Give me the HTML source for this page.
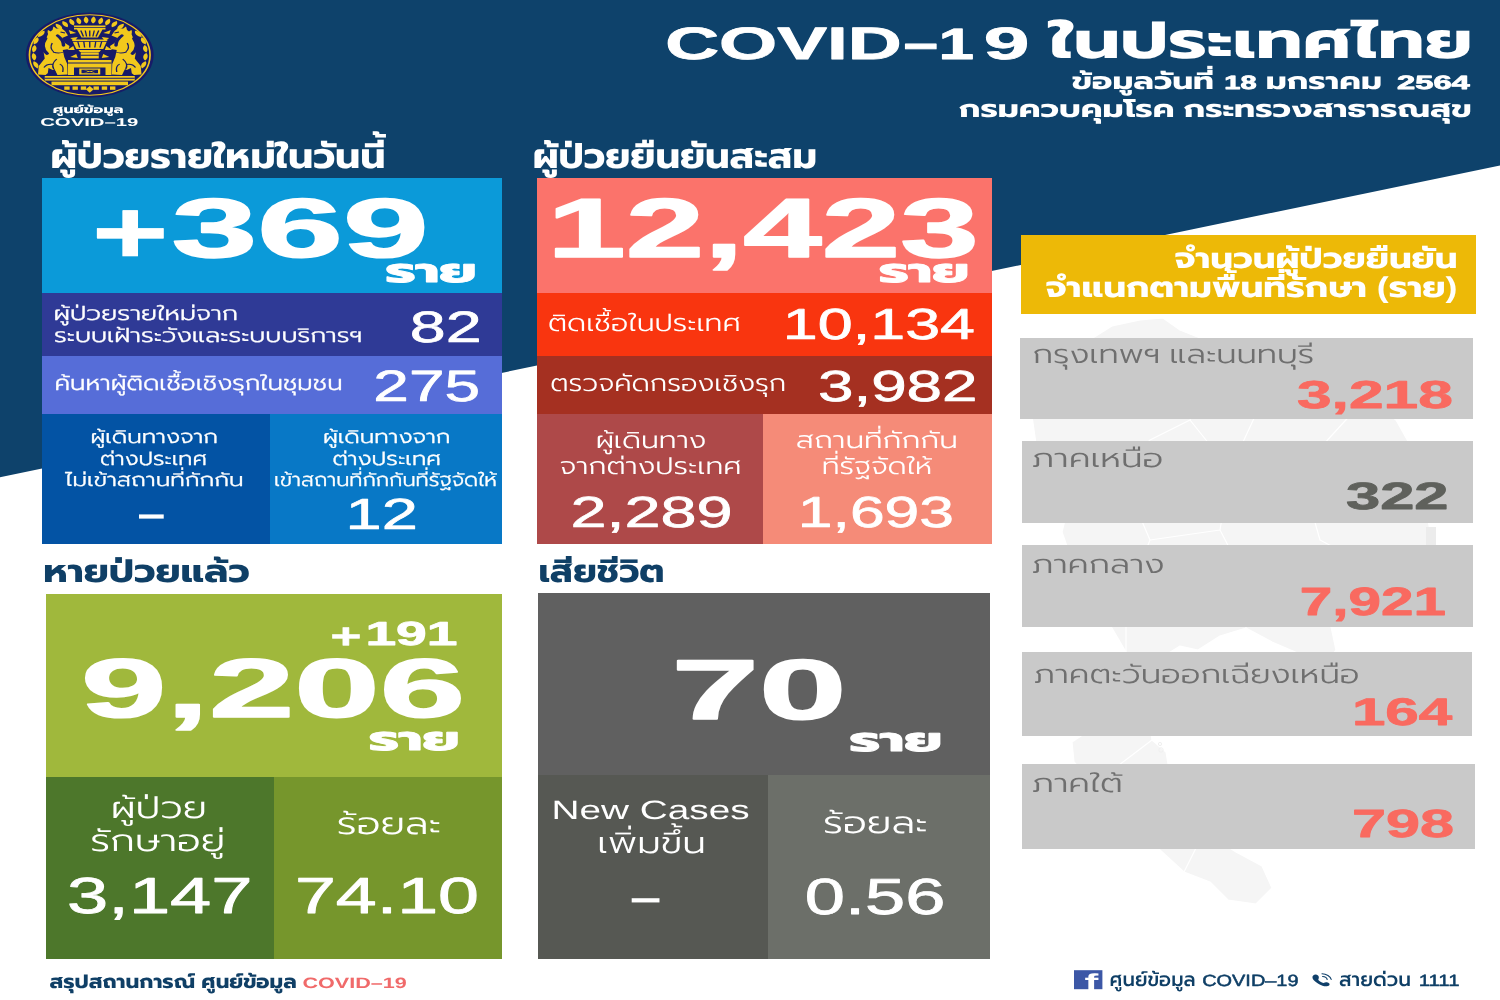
<!DOCTYPE html>
<html lang="th">
<head>
<meta charset="utf-8">
<title>COVID-19 ในประเทศไทย</title>
<style>
html,body{margin:0;padding:0;}
body{width:1500px;height:1000px;position:relative;overflow:hidden;background:#ffffff;font-family:'Liberation Sans','Prompt','Kanit','Loma',sans-serif;}
#bg{position:absolute;left:0;top:0;width:1500px;height:1000px;}
.p{position:absolute;}
#txt{position:absolute;left:0;top:0;width:1500px;height:1000px;font-family:'Liberation Sans','Prompt','Kanit','Loma',sans-serif;}
#txt text{white-space:pre;text-rendering:geometricPrecision;}
</style>
</head>
<body>
<svg id="bg" viewBox="0 0 1500 1000" width="1500" height="1000">
<polygon points="0,0 1500,0 1500,165.4 0,477.2" fill="#0e426b"/>
<g id="thaimap" fill="#f5f5f5" stroke="#ffffff" stroke-width="1.2" stroke-linejoin="round">
<path d="M1112,326 L1140,320 L1163,318 L1180,330 L1200,338 L1212,358 L1214,380 L1236,392 L1256,414 L1280,412 L1304,398 L1332,392 L1366,398 L1396,420 L1414,452 L1424,492 L1430,532 L1424,566 L1392,578 L1352,582 L1324,596 L1330,622 L1336,650 L1322,668 L1300,654 L1272,642 L1246,628 L1220,636 L1198,650 L1180,646 L1164,656 L1158,684 L1148,716 L1152,740 L1166,752 L1170,776 L1182,806 L1204,832 L1236,852 L1262,866 L1272,888 L1256,904 L1228,900 L1210,882 L1184,872 L1160,850 L1140,822 L1118,800 L1094,784 L1074,762 L1072,742 L1090,730 L1108,712 L1120,684 L1126,652 L1112,628 L1092,600 L1074,566 L1062,532 L1070,500 L1056,470 L1036,444 L1032,416 L1048,392 L1058,364 L1080,346 Z"/>
<path d="M1214,380 L1190,420 L1150,440 L1120,470 L1070,500 M1190,420 L1230,470 L1256,414 M1230,470 L1220,530 L1246,580 L1246,628 M1220,530 L1150,540 L1120,470 M1150,540 L1126,600 L1126,652 M1324,596 L1246,580 M1300,470 L1320,540 L1392,578 M1300,470 L1366,398 M1300,470 L1230,470 M1360,500 L1424,492 M1108,712 L1148,716 M1094,784 L1152,740 M1140,822 L1182,806 M1184,872 L1204,832" fill="none"/>
<circle cx="1161" cy="750" r="2.2" fill="none" stroke="#f0f0f0" stroke-width="1"/>
<circle cx="1160" cy="744" r="1.6" fill="none" stroke="#f0f0f0" stroke-width="1"/>
</g>
<rect x="1426" y="527" width="10" height="18" fill="#ececec"/>
<rect id="fbbox" x="1074" y="970.2" width="28.4" height="19" fill="#3c57a6"/>

</svg>

<div class="p b1" style="left:42px;top:178px;width:460px;height:115px;background:#0b9ad9"></div>
<div class="p b2" style="left:42px;top:293px;width:460px;height:63px;background:#2f3a96"></div>
<div class="p b3" style="left:42px;top:356px;width:460px;height:58px;background:#566dd8"></div>
<div class="p b4" style="left:42px;top:414px;width:228px;height:130px;background:#0353a4"></div>
<div class="p b5" style="left:270px;top:414px;width:232px;height:130px;background:#0878c6"></div>
<div class="p r1" style="left:537px;top:178px;width:455px;height:115px;background:#fb736b"></div>
<div class="p r2" style="left:537px;top:293px;width:455px;height:63px;background:#f9350f"></div>
<div class="p r3" style="left:537px;top:356px;width:455px;height:58px;background:#a53021"></div>
<div class="p r4" style="left:537px;top:414px;width:226px;height:130px;background:#ae4949"></div>
<div class="p r5" style="left:763px;top:414px;width:229px;height:130px;background:#f58b78"></div>
<div class="p y1" style="left:1021px;top:235px;width:455px;height:79px;background:#edb907"></div>
<div class="p g1" style="left:1020px;top:338px;width:453px;height:81px;background:#c9c9c9"></div>
<div class="p g2" style="left:1022px;top:441px;width:451px;height:82px;background:#c9c9c9"></div>
<div class="p g3" style="left:1022px;top:545px;width:451px;height:82px;background:#c9c9c9"></div>
<div class="p g4" style="left:1022px;top:652px;width:450px;height:84px;background:#c9c9c9"></div>
<div class="p g5" style="left:1022px;top:764px;width:453px;height:85px;background:#c9c9c9"></div>
<div class="p n1" style="left:46px;top:594px;width:456px;height:184px;background:#a0b83c"></div>
<div class="p n2" style="left:46px;top:777px;width:228px;height:182px;background:#4d772b"></div>
<div class="p n3" style="left:274px;top:777px;width:228px;height:182px;background:#76962c"></div>
<div class="p d1" style="left:538px;top:593px;width:452px;height:182px;background:#606060"></div>
<div class="p d2" style="left:538px;top:775px;width:230px;height:184px;background:#565853"></div>
<div class="p d3" style="left:768px;top:775px;width:222px;height:184px;background:#6c6f69"></div>
<svg id="logo" style="position:absolute;left:20px;top:5px" width="140" height="100" viewBox="20 5 140 100">
<g transform="translate(89.75,55) scale(1.5,1)">
<circle r="42.6" fill="#171b68"/>
<circle r="40.2" fill="none" stroke="#f2c81c" stroke-width="1.1"/>
<g fill="#f2c81c">
<path transform="translate(-20.3,-27.9) rotate(-36)" d="M0,-4 C2,-2 2.2,1 0,3 C-2.2,1 -2,-2 0,-4Z"/>
<path transform="translate(-16.2,-30.5) rotate(-28)" d="M0,-4 C2,-2 2.2,1 0,3 C-2.2,1 -2,-2 0,-4Z"/>
<path transform="translate(-11.8,-32.4) rotate(-20)" d="M0,-4 C2,-2 2.2,1 0,3 C-2.2,1 -2,-2 0,-4Z"/>
<path transform="translate(-7.2,-33.7) rotate(-12)" d="M0,-4 C2,-2 2.2,1 0,3 C-2.2,1 -2,-2 0,-4Z"/>
<path transform="translate(-2.4,-34.4) rotate(-4)" d="M0,-4 C2,-2 2.2,1 0,3 C-2.2,1 -2,-2 0,-4Z"/>
<path transform="translate(2.4,-34.4) rotate(4)" d="M0,-4 C2,-2 2.2,1 0,3 C-2.2,1 -2,-2 0,-4Z"/>
<path transform="translate(7.2,-33.7) rotate(12)" d="M0,-4 C2,-2 2.2,1 0,3 C-2.2,1 -2,-2 0,-4Z"/>
<path transform="translate(11.8,-32.4) rotate(20)" d="M0,-4 C2,-2 2.2,1 0,3 C-2.2,1 -2,-2 0,-4Z"/>
<path transform="translate(16.2,-30.5) rotate(28)" d="M0,-4 C2,-2 2.2,1 0,3 C-2.2,1 -2,-2 0,-4Z"/>
<path transform="translate(20.3,-27.9) rotate(36)" d="M0,-4 C2,-2 2.2,1 0,3 C-2.2,1 -2,-2 0,-4Z"/>
<path transform="translate(-26.0,-20.3) rotate(-22)" d="M0,-5 C2,-2 2,1 0,3 C-2,1 -2,-2 0,-5Z"/>
<path transform="translate(-22.9,-23.7) rotate(-14)" d="M0,-5 C2,-2 2,1 0,3 C-2,1 -2,-2 0,-5Z"/>
<path transform="translate(22.9,-23.7) rotate(14)" d="M0,-5 C2,-2 2,1 0,3 C-2,1 -2,-2 0,-5Z"/>
<path transform="translate(26.0,-20.3) rotate(22)" d="M0,-5 C2,-2 2,1 0,3 C-2,1 -2,-2 0,-5Z"/>
<path d="M-10.5,-29.5 H10.5 V-25.5 H8.5 L5.5,-17.5 H-5.5 L-8.5,-25.5 H-10.5 Z"/>
<path d="M-12,-15.5 H12 L9,-6 H-9 Z"/>
<path d="M-7.5,-5 H7.5 L6.5,-3 H-6.5 Z"/>
<rect x="-6" y="-2.6" width="12" height="6"/>
<path d="M-9,-22 l-5,-3 l1,4Z M-8,-18 l-5,1 l3,3Z M-11,-9 l-4,4 l5,0Z M-9,-1 l-4,3 l5,1Z"/>
<path d="M9,-22 l5,-3 l-1,4Z M8,-18 l5,1 l-3,3Z M11,-9 l4,4 l-5,0Z M9,-1 l4,3 l-5,1Z"/>
<path d="M-14.5,5 H14.5 V20 H10.5 V12.5 H-10.5 V20 H-14.5 Z"/>
<path d="M-7,13.5 H7 V19.5 H-7Z M-5.5,14.7 V18.3 H5.5 V14.7Z" fill-rule="evenodd"/>
<path d="M-4,15.2 L0,16.2 L4,15.2 L1.2,16.5 L4,17.8 L0,16.8 L-4,17.8 L-1.2,16.5Z"/>
<rect x="-30" y="21" width="60" height="4.6"/>
<rect x="-25.5" y="26.6" width="51" height="3.6"/>
<rect x="-17" y="31.4" width="3.6" height="3.4"/>
<rect x="-11.5" y="31.4" width="3.6" height="3.4"/>
<rect x="-6" y="31.4" width="3.6" height="3.4"/>
<rect x="2.5" y="31.4" width="3.6" height="3.4"/>
<rect x="8" y="31.4" width="3.6" height="3.4"/>
<rect x="13.5" y="31.4" width="3.6" height="3.4"/>
<path d="M0,31 l2.6,3.2 l-2.6,3.6 l-2.6,-3.6Z"/>
<path d="M-24,-26 L-19,-27 L-16.5,-24 L-14.5,-19.5 L-18.5,-17 L-16.5,-12 L-13.5,-9 L-14,-6 L-18,-5 L-17,2 L-15,9 L-14.8,19.5 L-21.5,20 L-23.5,14 L-27,17 L-29.5,20 L-34.5,19.5 L-34,11 L-30,3.5 L-31,-5 L-29.5,-15 L-27.5,-22 Z"/>
<path transform="scale(-1,1)" d="M-24,-26 L-19,-27 L-16.5,-24 L-14.5,-19.5 L-18.5,-17 L-16.5,-12 L-13.5,-9 L-14,-6 L-18,-5 L-17,2 L-15,9 L-14.8,19.5 L-21.5,20 L-23.5,14 L-27,17 L-29.5,20 L-34.5,19.5 L-34,11 L-30,3.5 L-31,-5 L-29.5,-15 L-27.5,-22 Z"/>
<path transform="translate(36,-14) scale(-1,1) rotate(20)" d="M0,-4 C2.2,-2 2.2,1.5 0,3.6 C-1.6,1.5 -1.8,-2 0,-4Z"/>
<path transform="translate(37.2,-6) scale(-1,1) rotate(8)" d="M0,-4 C2.2,-2 2.2,1.5 0,3.6 C-1.6,1.5 -1.8,-2 0,-4Z"/>
<path transform="translate(37.3,2) scale(-1,1) rotate(-5)" d="M0,-4 C2.2,-2 2.2,1.5 0,3.6 C-1.6,1.5 -1.8,-2 0,-4Z"/>
<path transform="translate(36,10) scale(-1,1) rotate(-20)" d="M0,-4 C2.2,-2 2.2,1.5 0,3.6 C-1.6,1.5 -1.8,-2 0,-4Z"/>
<path transform="translate(32.5,-21) scale(-1,1) rotate(35)" d="M0,-4 C2.2,-2 2.2,1.5 0,3.6 C-1.6,1.5 -1.8,-2 0,-4Z"/>
<path transform="translate(-36,-14) scale(1,1) rotate(20)" d="M0,-4 C2.2,-2 2.2,1.5 0,3.6 C-1.6,1.5 -1.8,-2 0,-4Z"/>
<path transform="translate(-37.2,-6) scale(1,1) rotate(8)" d="M0,-4 C2.2,-2 2.2,1.5 0,3.6 C-1.6,1.5 -1.8,-2 0,-4Z"/>
<path transform="translate(-37.3,2) scale(1,1) rotate(-5)" d="M0,-4 C2.2,-2 2.2,1.5 0,3.6 C-1.6,1.5 -1.8,-2 0,-4Z"/>
<path transform="translate(-36,10) scale(1,1) rotate(-20)" d="M0,-4 C2.2,-2 2.2,1.5 0,3.6 C-1.6,1.5 -1.8,-2 0,-4Z"/>
<path transform="translate(-32.5,-21) scale(1,1) rotate(35)" d="M0,-4 C2.2,-2 2.2,1.5 0,3.6 C-1.6,1.5 -1.8,-2 0,-4Z"/>
</g>
<g fill="none" stroke="#171b68" stroke-width="0.9">
<path d="M-6,-24.5 L-4.2,-18.5"/>
<path d="M-3,-24.5 L-2.1,-18.5"/>
<path d="M0,-24.5 L0.0,-18.5"/>
<path d="M3,-24.5 L2.1,-18.5"/>
<path d="M6,-24.5 L4.2,-18.5"/>
<path d="M-8,-13.5 L-6.8,-7.5"/>
<path d="M-4,-13.5 L-3.4,-7.5"/>
<path d="M0,-13.5 L0.0,-7.5"/>
<path d="M4,-13.5 L3.4,-7.5"/>
<path d="M8,-13.5 L6.8,-7.5"/>
<path d="M-11,-27.6 H11 M-12,-13.6 H12 M-6,0.3 H6 M-30,23.3 H30 M-14.5,8 H14.5"/>
<path transform="scale(-1,1)" d="M-21.5,-19.5 Q-17.5,-15 -17.5,-9.5" stroke-width="2.3" stroke-linecap="round"/>
<path transform="scale(-1,1)" d="M-29.5,-16.5 Q-33.5,-8 -28.5,-1.5" stroke-width="2.6" stroke-linecap="round"/>
<path transform="scale(-1,1)" d="M-25,-12 q-2,5 1,9 M-22,4 q-4,5 -2,10 M-30.5,12.5 q2,-4 6,-3 M-19.5,-23 l3,1 M-20,9 q3,2 2,8 M-24.5,-3 q4,2 7,0" stroke-width="0.9"/>
<path transform="scale(-1,1)" d="M-27.5,13 L-22.5,16.5 L-28,18.5Z" fill="#171b68" stroke="none"/>
<path transform="scale(1,1)" d="M-21.5,-19.5 Q-17.5,-15 -17.5,-9.5" stroke-width="2.3" stroke-linecap="round"/>
<path transform="scale(1,1)" d="M-29.5,-16.5 Q-33.5,-8 -28.5,-1.5" stroke-width="2.6" stroke-linecap="round"/>
<path transform="scale(1,1)" d="M-25,-12 q-2,5 1,9 M-22,4 q-4,5 -2,10 M-30.5,12.5 q2,-4 6,-3 M-19.5,-23 l3,1 M-20,9 q3,2 2,8 M-24.5,-3 q4,2 7,0" stroke-width="0.9"/>
<path transform="scale(1,1)" d="M-27.5,13 L-22.5,16.5 L-28,18.5Z" fill="#171b68" stroke="none"/>
</g>
</g></svg>
<svg id="txt" viewBox="0 0 1500 1000" width="1500" height="1000">
<text id="t_title"><tspan x="665.16" y="59.0" font-size="45.4" font-weight="700" fill="#ffffff" stroke="#ffffff" stroke-width="0.8" stroke-linejoin="round" textLength="236.59" lengthAdjust="spacingAndGlyphs">COVID</tspan><tspan x="903.75" y="58.6" font-size="47" font-weight="700" fill="#ffffff" stroke="#ffffff" stroke-width="1.0" stroke-linejoin="round" textLength="34.13" lengthAdjust="spacingAndGlyphs">–</tspan><tspan x="938.56" y="58.5" font-size="43.9" font-weight="700" fill="#ffffff" stroke="#ffffff" stroke-width="0.8" stroke-linejoin="round" textLength="35.59" lengthAdjust="spacingAndGlyphs">1</tspan><tspan x="983.79" y="59.0" font-size="45.4" font-weight="700" fill="#ffffff" stroke="#ffffff" stroke-width="0.8" stroke-linejoin="round" textLength="45.66" lengthAdjust="spacingAndGlyphs">9</tspan> <tspan x="1049.81" y="58.3" font-size="51" font-weight="700" fill="#ffffff" textLength="422.8" lengthAdjust="spacingAndGlyphs">ในประเทศไทย</tspan></text>
<text id="t_dept" x="958.8" y="117.3" font-size="24" font-weight="700" fill="#ffffff" textLength="513.01" lengthAdjust="spacingAndGlyphs">กรมควบคุมโรค กระทรวงสาธารณสุข</text>
<text id="t_logo"><tspan x="52.88" y="112.8" font-size="10.7" font-weight="700" fill="#ffffff" textLength="70.63" lengthAdjust="spacingAndGlyphs">ศูนย์ข้อมูล</tspan> <tspan x="40.19" y="125.6" font-size="11.4" font-weight="700" fill="#ffffff" textLength="98.22" lengthAdjust="spacingAndGlyphs">COVID–19</tspan></text>
<text id="h_new" x="50.49" y="167.5" font-size="35" font-weight="700" fill="#ffffff" textLength="334.9" lengthAdjust="spacingAndGlyphs">ผู้ป่วยรายใหม่ในวันนี้</text>
<text id="h_conf" x="532.88" y="167.5" font-size="35" font-weight="700" fill="#ffffff" textLength="284.25" lengthAdjust="spacingAndGlyphs">ผู้ป่วยยืนยันสะสม</text>
<text id="h_rec" x="43.18" y="582.4" font-size="32" font-weight="700" fill="#0f3f66" textLength="206.53" lengthAdjust="spacingAndGlyphs">หายป่วยแล้ว</text>
<text id="h_death" x="538.46" y="581.5" font-size="32" font-weight="700" fill="#0f3f66" textLength="126.08" lengthAdjust="spacingAndGlyphs">เสียชีวิต</text>
<text id="b_num"><tspan x="92.12" y="262.7" font-size="89.42" font-weight="700" fill="#ffffff" stroke="#ffffff" stroke-width="0.8" stroke-linejoin="round" textLength="76.43" lengthAdjust="spacingAndGlyphs">+</tspan><tspan x="171.64" y="256.6" font-size="83.8" font-weight="700" fill="#ffffff" stroke="#ffffff" stroke-width="1.5" stroke-linejoin="round" textLength="257.07" lengthAdjust="spacingAndGlyphs">369</tspan></text>
<text id="b_rai" x="385.49" y="282.2" font-size="33" font-weight="700" fill="#ffffff" stroke="#ffffff" stroke-width="0.9" stroke-linejoin="round" textLength="91.26" lengthAdjust="spacingAndGlyphs">ราย</text>
<text id="b_l12"><tspan x="53.57" y="320" font-size="19.8" font-weight="300" fill="#ffffff" stroke="#ffffff" stroke-width="0.3" stroke-linejoin="round" textLength="184.55" lengthAdjust="spacingAndGlyphs">ผู้ป่วยรายใหม่จาก</tspan> <tspan x="54.09" y="341.6" font-size="19.8" font-weight="300" fill="#ffffff" stroke="#ffffff" stroke-width="0.3" stroke-linejoin="round" textLength="308.22" lengthAdjust="spacingAndGlyphs">ระบบเฝ้าระวังและระบบบริการฯ</tspan></text>
<text id="b_82" x="409.86" y="341.7" font-size="43.9" font-weight="400" fill="#ffffff" stroke="#ffffff" stroke-width="0.7" stroke-linejoin="round" textLength="71.82" lengthAdjust="spacingAndGlyphs">82</text>
<text id="b_l3" x="54.48" y="390.4" font-size="20.8" font-weight="300" fill="#ffffff" stroke="#ffffff" stroke-width="0.3" stroke-linejoin="round" textLength="288.03" lengthAdjust="spacingAndGlyphs">ค้นหาผู้ติดเชื้อเชิงรุกในชุมชน</text>
<text id="b_275" x="373.38" y="400.5" font-size="43.9" font-weight="400" fill="#ffffff" stroke="#ffffff" stroke-width="0.7" stroke-linejoin="round" textLength="106.71" lengthAdjust="spacingAndGlyphs">275</text>
<text id="b_c1"><tspan x="90.46" y="442.9" font-size="18.6" font-weight="300" fill="#ffffff" stroke="#ffffff" stroke-width="0.3" stroke-linejoin="round" textLength="127.57" lengthAdjust="spacingAndGlyphs">ผู้เดินทางจาก</tspan> <tspan x="99.98" y="464.5" font-size="18.6" font-weight="300" fill="#ffffff" stroke="#ffffff" stroke-width="0.3" stroke-linejoin="round" textLength="107.04" lengthAdjust="spacingAndGlyphs">ต่างประเทศ</tspan> <tspan x="65.0" y="485.5" font-size="18.6" font-weight="300" fill="#ffffff" stroke="#ffffff" stroke-width="0.3" stroke-linejoin="round" textLength="178.51" lengthAdjust="spacingAndGlyphs">ไม่เข้าสถานที่กักกัน</tspan></text>
<text id="b_dash" x="138.9" y="531.6" font-size="61.05" font-weight="400" fill="#ffffff" textLength="24.7" lengthAdjust="spacingAndGlyphs">–</text>
<text id="b_c2"><tspan x="322.96" y="442.9" font-size="18.6" font-weight="300" fill="#ffffff" stroke="#ffffff" stroke-width="0.3" stroke-linejoin="round" textLength="127.57" lengthAdjust="spacingAndGlyphs">ผู้เดินทางจาก</tspan> <tspan x="332.48" y="464.5" font-size="18.6" font-weight="300" fill="#ffffff" stroke="#ffffff" stroke-width="0.3" stroke-linejoin="round" textLength="108.54" lengthAdjust="spacingAndGlyphs">ต่างประเทศ</tspan> <tspan x="274.0" y="485.5" font-size="18.6" font-weight="300" fill="#ffffff" stroke="#ffffff" stroke-width="0.3" stroke-linejoin="round" textLength="223.0" lengthAdjust="spacingAndGlyphs">เข้าสถานที่กักกันที่รัฐจัดให้</tspan></text>
<text id="b_12" x="345.56" y="528.7" font-size="43.5" font-weight="400" fill="#ffffff" stroke="#ffffff" stroke-width="0.7" stroke-linejoin="round" textLength="72.22" lengthAdjust="spacingAndGlyphs">12</text>
<text id="r_big" x="547.3" y="256.6" font-size="83.8" font-weight="700" fill="#ffffff" stroke="#ffffff" stroke-width="1.5" stroke-linejoin="round" textLength="431.3" lengthAdjust="spacingAndGlyphs">12,423</text>
<text id="r_rai" x="878.99" y="282.2" font-size="33" font-weight="700" fill="#ffffff" stroke="#ffffff" stroke-width="0.9" stroke-linejoin="round" textLength="90.05" lengthAdjust="spacingAndGlyphs">ราย</text>
<text id="r_l1" x="547.98" y="331.2" font-size="24" font-weight="300" fill="#ffffff" textLength="192.75" lengthAdjust="spacingAndGlyphs">ติดเชื้อในประเทศ</text>
<text id="r_n1" x="782.89" y="338.5" font-size="43.4" font-weight="400" fill="#ffffff" stroke="#ffffff" stroke-width="0.7" stroke-linejoin="round" textLength="192.14" lengthAdjust="spacingAndGlyphs">10,134</text>
<text id="r_l2" x="550.19" y="390.6" font-size="23.5" font-weight="300" fill="#ffffff" textLength="235.94" lengthAdjust="spacingAndGlyphs">ตรวจคัดกรองเชิงรุก</text>
<text id="r_n2" x="817.94" y="400.8" font-size="43.4" font-weight="400" fill="#ffffff" stroke="#ffffff" stroke-width="0.7" stroke-linejoin="round" textLength="159.63" lengthAdjust="spacingAndGlyphs">3,982</text>
<text id="r_c1"><tspan x="595.65" y="447.9" font-size="23.5" font-weight="300" fill="#ffffff" textLength="110.5" lengthAdjust="spacingAndGlyphs">ผู้เดินทาง</tspan> <tspan x="559.47" y="473.7" font-size="23.5" font-weight="300" fill="#ffffff" textLength="182.05" lengthAdjust="spacingAndGlyphs">จากต่างประเทศ</tspan></text>
<text id="r_n3" x="570.42" y="526.6" font-size="43.4" font-weight="400" fill="#ffffff" stroke="#ffffff" stroke-width="0.7" stroke-linejoin="round" textLength="162.16" lengthAdjust="spacingAndGlyphs">2,289</text>
<text id="r_c2"><tspan x="795.67" y="447.9" font-size="23.5" font-weight="300" fill="#ffffff" textLength="162.18" lengthAdjust="spacingAndGlyphs">สถานที่กักกัน</tspan> <tspan x="821.77" y="473.7" font-size="23.5" font-weight="300" fill="#ffffff" textLength="110.54" lengthAdjust="spacingAndGlyphs">ที่รัฐจัดให้</tspan></text>
<text id="r_n4" x="797.83" y="526.6" font-size="43.4" font-weight="400" fill="#ffffff" stroke="#ffffff" stroke-width="0.7" stroke-linejoin="round" textLength="156.25" lengthAdjust="spacingAndGlyphs">1,693</text>
<text id="y_12"><tspan x="1174.49" y="268" font-size="28.5" font-weight="700" fill="#ffffff" textLength="283.02" lengthAdjust="spacingAndGlyphs">จำนวนผู้ป่วยยืนยัน</tspan> <tspan x="1045.49" y="297.4" font-size="28.5" font-weight="700" fill="#ffffff" textLength="412.02" lengthAdjust="spacingAndGlyphs">จำแนกตามพื้นที่รักษา (ราย)</tspan></text>
<text id="g_l1" x="1032.48" y="362.5" font-size="26" font-weight="300" fill="#6f6f6f" textLength="281.63" lengthAdjust="spacingAndGlyphs">กรุงเทพฯ และนนทบุรี</text>
<text id="g_n1" x="1296.99" y="407.5" font-size="38.9" font-weight="700" fill="#f96a60" stroke="#f96a60" stroke-width="0.8" stroke-linejoin="round" textLength="155.83" lengthAdjust="spacingAndGlyphs">3,218</text>
<text id="g_l2" x="1031.46" y="466.7" font-size="26" font-weight="300" fill="#6f6f6f" textLength="131.88" lengthAdjust="spacingAndGlyphs">ภาคเหนือ</text>
<text id="g_n2" x="1345.97" y="508.8" font-size="38.0" font-weight="700" fill="#5f615c" stroke="#5f615c" stroke-width="0.8" stroke-linejoin="round" textLength="102.58" lengthAdjust="spacingAndGlyphs">322</text>
<text id="g_l3" x="1031.46" y="573" font-size="26" font-weight="300" fill="#6f6f6f" textLength="133.07" lengthAdjust="spacingAndGlyphs">ภาคกลาง</text>
<text id="g_n3" x="1299.76" y="614.7" font-size="39.4" font-weight="700" fill="#f96a60" stroke="#f96a60" stroke-width="0.8" stroke-linejoin="round" textLength="146.26" lengthAdjust="spacingAndGlyphs">7,921</text>
<text id="g_l4" x="1033.49" y="682.7" font-size="26" font-weight="300" fill="#6f6f6f" textLength="326.03" lengthAdjust="spacingAndGlyphs">ภาคตะวันออกเฉียงเหนือ</text>
<text id="g_n4" x="1351.92" y="725.3" font-size="38.3" font-weight="700" fill="#f96a60" stroke="#f96a60" stroke-width="0.8" stroke-linejoin="round" textLength="100.37" lengthAdjust="spacingAndGlyphs">164</text>
<text id="g_l5" x="1031.47" y="791.7" font-size="26" font-weight="300" fill="#6f6f6f" textLength="91.33" lengthAdjust="spacingAndGlyphs">ภาคใต้</text>
<text id="g_n5" x="1351.94" y="837.3" font-size="39.3" font-weight="700" fill="#f96a60" stroke="#f96a60" stroke-width="0.8" stroke-linejoin="round" textLength="102.09" lengthAdjust="spacingAndGlyphs">798</text>
<text id="n_inc"><tspan x="330.32" y="648.0" font-size="35.01" font-weight="700" fill="#ffffff" stroke="#ffffff" stroke-width="0.4" stroke-linejoin="round" textLength="31.36" lengthAdjust="spacingAndGlyphs">+</tspan><tspan x="365.4" y="645.3" font-size="33.4" font-weight="700" fill="#ffffff" stroke="#ffffff" stroke-width="0.8" stroke-linejoin="round" textLength="92.14" lengthAdjust="spacingAndGlyphs">191</tspan></text>
<text id="n_big" x="80.91" y="716.9" font-size="83.5" font-weight="700" fill="#ffffff" stroke="#ffffff" stroke-width="1.5" stroke-linejoin="round" textLength="384.17" lengthAdjust="spacingAndGlyphs">9,206</text>
<text id="n_rai" x="369.09" y="750.4" font-size="33" font-weight="700" fill="#ffffff" stroke="#ffffff" stroke-width="0.9" stroke-linejoin="round" textLength="90.46" lengthAdjust="spacingAndGlyphs">ราย</text>
<text id="n_c1"><tspan x="110.67" y="818" font-size="30.5" font-weight="300" fill="#ffffff" textLength="96.29" lengthAdjust="spacingAndGlyphs">ผู้ป่วย</tspan> <tspan x="90.23" y="850.8" font-size="30.5" font-weight="300" fill="#ffffff" textLength="134.97" lengthAdjust="spacingAndGlyphs">รักษาอยู่</tspan></text>
<text id="n_n1" x="67.14" y="912.6" font-size="50.8" font-weight="400" fill="#ffffff" stroke="#ffffff" stroke-width="0.8" stroke-linejoin="round" textLength="185.35" lengthAdjust="spacingAndGlyphs">3,147</text>
<text id="n_c2" x="336.83" y="834" font-size="30.5" font-weight="300" fill="#ffffff" textLength="104.33" lengthAdjust="spacingAndGlyphs">ร้อยละ</text>
<text id="n_n2" x="294.91" y="912.6" font-size="50.8" font-weight="400" fill="#ffffff" stroke="#ffffff" stroke-width="0.8" stroke-linejoin="round" textLength="184.06" lengthAdjust="spacingAndGlyphs">74.10</text>
<text id="d_big" x="671.51" y="718.6" font-size="85.2" font-weight="700" fill="#ffffff" stroke="#ffffff" stroke-width="1.5" stroke-linejoin="round" textLength="175.08" lengthAdjust="spacingAndGlyphs">70</text>
<text id="d_rai" x="849.58" y="750.8" font-size="33" font-weight="700" fill="#ffffff" stroke="#ffffff" stroke-width="0.9" stroke-linejoin="round" textLength="92.57" lengthAdjust="spacingAndGlyphs">ราย</text>
<text id="d_c1"><tspan x="551.62" y="819.2" font-size="26.5" font-weight="400" fill="#ffffff" textLength="197.92" lengthAdjust="spacingAndGlyphs">New Cases</tspan> <tspan x="597.28" y="853" font-size="30" font-weight="300" fill="#ffffff" textLength="108.65" lengthAdjust="spacingAndGlyphs">เพิ่มขึ้น</tspan></text>
<text id="d_dash" x="631.8" y="916.3" font-size="61.8" font-weight="400" fill="#ffffff" textLength="27.7" lengthAdjust="spacingAndGlyphs">–</text>
<text id="d_c2" x="822.92" y="833.2" font-size="30.5" font-weight="300" fill="#ffffff" textLength="104.85" lengthAdjust="spacingAndGlyphs">ร้อยละ</text>
<text id="d_n2" x="804.74" y="913.7" font-size="50.7" font-weight="400" fill="#ffffff" stroke="#ffffff" stroke-width="0.8" stroke-linejoin="round" textLength="140.64" lengthAdjust="spacingAndGlyphs">0.56</text>
<text id="t_date"><tspan x="1071.89" y="89.2" font-size="23.5" font-weight="700" fill="#ffffff" textLength="142.04" lengthAdjust="spacingAndGlyphs">ข้อมูลวันที่</tspan> <tspan x="1224.25" y="89.2" font-size="19.2" font-weight="700" fill="#ffffff" stroke="#ffffff" stroke-width="0.8" stroke-linejoin="round" textLength="32.26" lengthAdjust="spacingAndGlyphs">18</tspan> <tspan x="1265.77" y="89.2" font-size="23.5" font-weight="700" fill="#ffffff" textLength="116.17" lengthAdjust="spacingAndGlyphs">มกราคม</tspan> <tspan x="1397.1" y="89.2" font-size="19.2" font-weight="700" fill="#ffffff" stroke="#ffffff" stroke-width="0.8" stroke-linejoin="round" textLength="72.7" lengthAdjust="spacingAndGlyphs">2564</tspan></text>
<text id="i_fb" x="1084.48" y="989.5" font-size="23.05" font-weight="700" fill="#ffffff" textLength="13.82" lengthAdjust="spacingAndGlyphs">f</text>
<text id="f_fb"><tspan x="1109.57" y="985.5" font-size="19.6" font-weight="500" fill="#0f3f66" textLength="86.05" lengthAdjust="spacingAndGlyphs">ศูนย์ข้อมูล</tspan> <tspan x="1202.19" y="985.5" font-size="16.2" font-weight="400" fill="#0f3f66" stroke="#0f3f66" stroke-width="0.5" stroke-linejoin="round" textLength="96.31" lengthAdjust="spacingAndGlyphs">COVID–19</tspan></text>
<text id="f_tel"><tspan x="1338.98" y="985.5" font-size="19.6" font-weight="500" fill="#0f3f66" textLength="72.05" lengthAdjust="spacingAndGlyphs">สายด่วน</tspan> <tspan x="1418.65" y="985.5" font-size="16.2" font-weight="400" fill="#0f3f66" stroke="#0f3f66" stroke-width="0.5" stroke-linejoin="round" textLength="40.87" lengthAdjust="spacingAndGlyphs">1111</tspan></text>
<text id="f_sum"><tspan x="49.4" y="987.8" font-size="19" font-weight="700" fill="#0f3f66" textLength="145.6" lengthAdjust="spacingAndGlyphs">สรุปสถานการณ์</tspan> <tspan x="201.39" y="987.8" font-size="19" font-weight="700" fill="#0f3f66" textLength="95.23" lengthAdjust="spacingAndGlyphs">ศูนย์ข้อมูล</tspan> <tspan x="302.48" y="987.8" font-size="15" font-weight="700" fill="#f06a6a" textLength="104.43" lengthAdjust="spacingAndGlyphs">COVID–19</tspan></text>
<g id="i_tel" fill="#10406a">
<path d="M1312.5,978 C1312,976 1314,974.4 1316,974.6 C1318,974.8 1319.2,976.5 1318.8,978 C1318.6,979 1317.8,979.6 1318.8,980.4 C1320.5,981.9 1322.5,982.9 1323.6,982.9 C1324.6,982.5 1325.6,982 1326.9,982.3 C1329.2,982.8 1330.2,984.2 1329.3,985.2 C1328,986.5 1325,986.5 1322.5,985.7 C1318,984.1 1313.5,981 1312.5,978 Z"/>
<path d="M1322,973.8 C1326.2,974 1330.6,976.4 1331.2,979.4 M1322.6,976.5 C1324.8,976.7 1326.8,977.9 1327.2,979.5" fill="none" stroke="#10406a" stroke-width="1.1" stroke-linecap="round"/>
</g>

</svg>
</body></html>
